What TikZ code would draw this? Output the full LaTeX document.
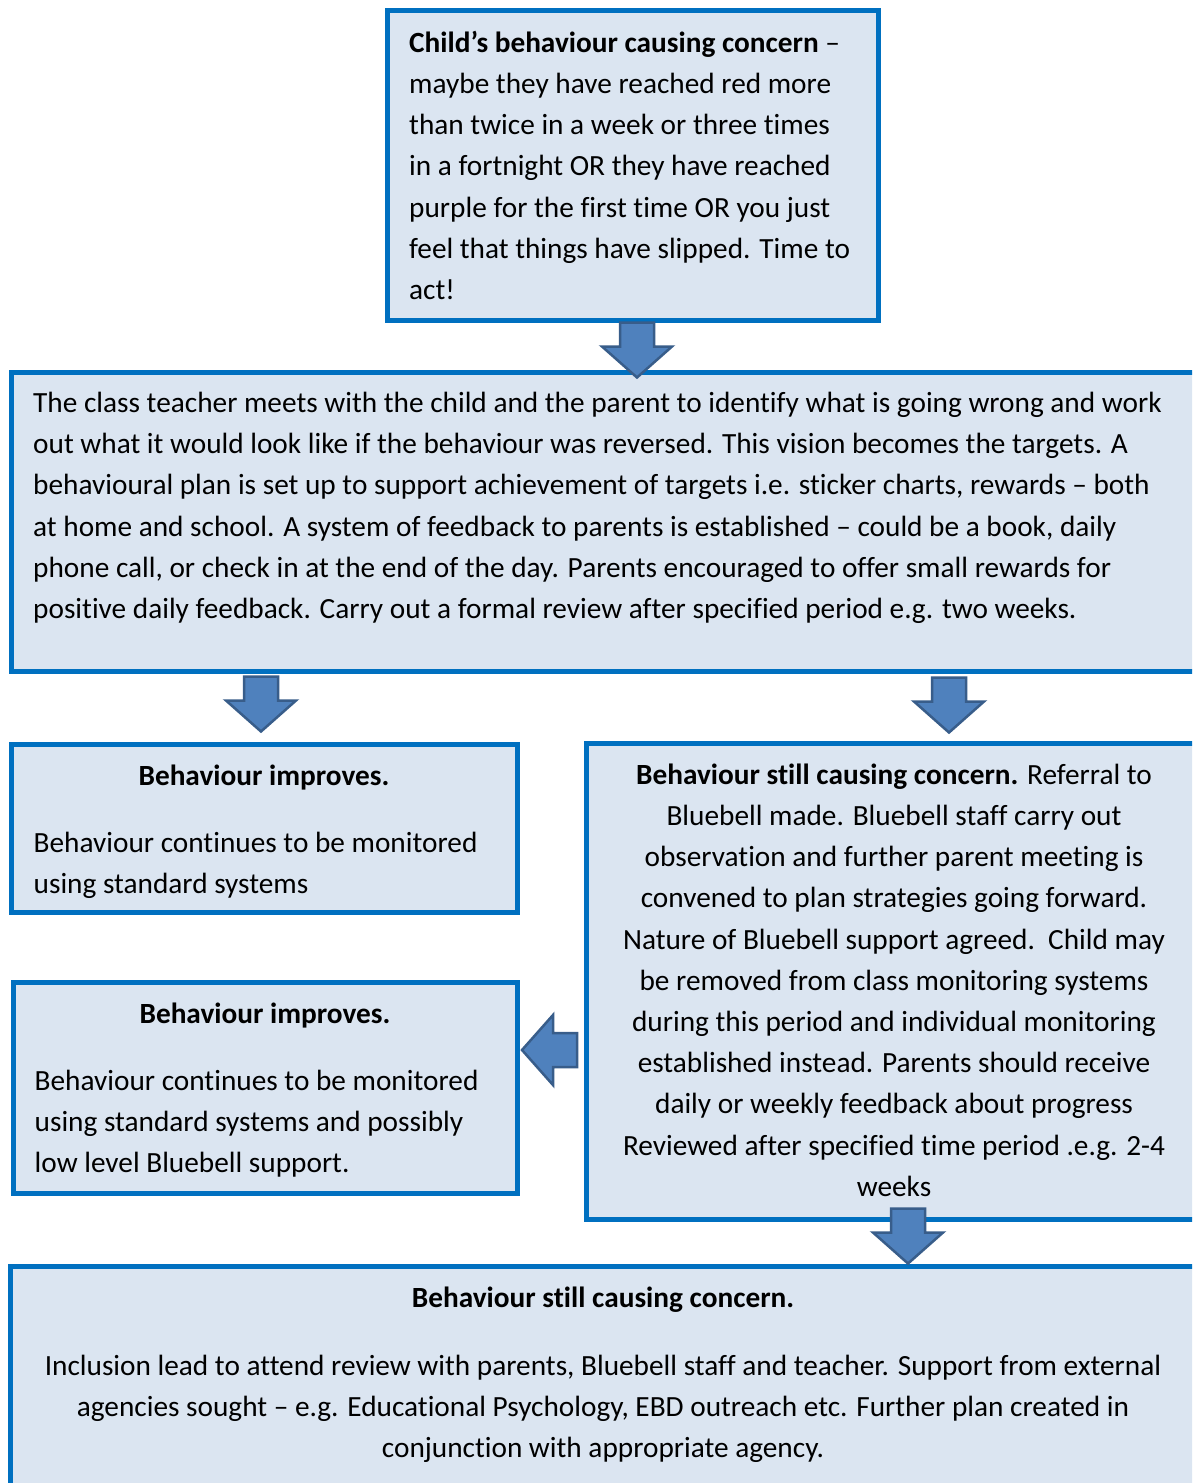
\documentclass[tikz,border=0pt]{standalone}
\usepackage{fontspec}
\setmainfont{Carlito}[Ligatures=NoCommon]
\usepackage{tikz}
\usetikzlibrary{calc}
\definecolor{boxfill}{HTML}{DBE5F1}
\definecolor{boxline}{HTML}{0070C0}
\definecolor{arrfill}{HTML}{4F81BD}
\definecolor{arrline}{HTML}{385D8A}
\tikzset{
  box/.style={draw=boxline,fill=boxfill,line width=5pt,inner sep=0pt},
  txt/.style={inner sep=0pt,font=\fontsize{29.3}{41.2}\selectfont,execute at begin node=\strut},
  arrowshape/.style={draw=arrline,fill=arrfill,line width=2.5pt,line join=miter}
}
\newcommand*{\blockarrow}[2]{\draw[arrowshape,shift={(#1)},rotate=#2](0,0)--(-35,-31)--(-17,-31)--(-17,-55)--(17,-55)--(17,-31)--(35,-31)--cycle;}

\begin{document}
\begin{tikzpicture}[x=1pt,y=-1pt]
\clip(0,0)rectangle(1192,1483);
\fill[white](0,0)rectangle(1192,1483);

\node[box,minimum width=491pt,minimum height=310pt](top)at(633,165.5){};
\node[box,minimum width=1185pt,minimum height=299pt](plan)at(603.5,521.5){};
\node[box,minimum width=506pt,minimum height=168pt](good)at(264,828){};
\node[box,minimum width=610pt,minimum height=475.5pt](concern)at(891,981.25){};
\node[box,minimum width=504pt,minimum height=211pt](better)at(265,1087.5){};
\node[box,minimum width=1186pt,minimum height=224pt](final)at(603,1378){};

\node[txt,anchor=north west,align=left](toptext)at($(top.north west)+(24,22.7)$){\textbf{Child’s behaviour causing concern} –\\maybe they have reached red more\\than twice in a week or three times\\in a fortnight OR they have reached\\purple for the first time OR you just\\feel that things have slipped. Time to\\act!};

\node[txt,anchor=north west,align=left](plantext)at($(plan.north west)+(24.5,22.5)$){The class teacher meets with the child and the parent to identify what is going wrong and work\\out what it would look like if the behaviour was reversed. This vision becomes the targets. A\\behavioural plan is set up to support achievement of targets i.e. sticker charts, rewards – both\\at home and school. A system of feedback to parents is established – could be a book, daily\\phone call, or check in at the end of the day. Parents encouraged to offer small rewards for\\positive daily feedback. Carry out a formal review after specified period e.g. two weeks.};

\node[txt,anchor=north](goodhead)at($(good.north)+(0,14.5)$){\textbf{Behaviour improves.}};
\node[txt,anchor=north west,align=left](goodtext)at($(good.north west)+(25,90)$){Behaviour continues to be monitored\\using standard systems};

\node[txt,anchor=north,align=center](concerntext)at($(concern.north)+(3,22.5)$){\textbf{Behaviour still causing concern.} Referral to\\Bluebell made. Bluebell staff carry out\\observation and further parent meeting is\\convened to plan strategies going forward.\\Nature of Bluebell support agreed.\ \ Child may\\be removed from class monitoring systems\\during this period and individual monitoring\\established instead. Parents should receive\\daily or weekly feedback about progress\\Reviewed after specified time period .e.g. 2-4\\weeks};

\node[txt,anchor=north](betterhead)at($(better.north)+(0,15)$){\textbf{Behaviour improves.}};
\node[txt,anchor=north west,align=left](bettertext)at($(better.north west)+(24,90.5)$){Behaviour continues to be monitored\\using standard systems and possibly\\low level Bluebell support.};

\node[txt,anchor=north](finalhead)at($(final.north)+(0,15)$){\textbf{Behaviour still causing concern.}};
\node[txt,anchor=north,align=center](finaltext)at($(final.north)+(0,91.5)$){Inclusion lead to attend review with parents, Bluebell staff and teacher. Support from external\\agencies sought – e.g. Educational Psychology, EBD outreach etc. Further plan created in\\conjunction with appropriate agency.};

\blockarrow{$(top.south)+(4,54.5)$}{0}
\blockarrow{$(good.north)+(-3,-10)$}{0}
\blockarrow{$(concern.north)+(58,-8.5)$}{0}
\blockarrow{$(concern.south)+(17,42)$}{0}
\blockarrow{$(better.east)+(2.5,-37.5)$}{-90}

\end{tikzpicture}
\end{document}
